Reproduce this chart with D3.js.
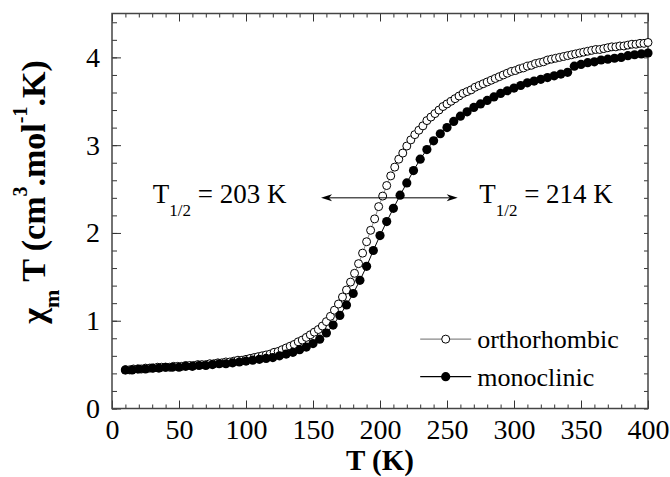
<!DOCTYPE html>
<html>
<head>
<meta charset="utf-8">
<script src="https://cdn.jsdelivr.net/npm/d3@7"></script>
<style>
  body { margin: 0; background: #fff; }
  svg text { font-family: "Liberation Serif", "DejaVu Serif", "Noto Serif", "Times New Roman", Times, serif !important; fill: #000; }
</style>
</head>
<body>
<div id="chart"></div>
<script>
// chi_m*T vs T, two polymorphs
const orthoT = [10,13,16,19,22,25,28,31,34,37,40,43,46,49,52,55,58,61,64,67,
  70,73,76,79,82,85,88,91,94,97,100,103,106,109,112,115,118,121,124,127,
  130,133,136,139,142,145,148,151,154,157,160,163,166,169,172,175,178,181,184,187,
  190,193,196,199,202,205,208,211,214,217,220,223,226,229,232,235,238,241,244,247,
  250,253,256,259,262,265,268,271,274,277,280,283,286,289,292,295,298,301,304,307,
  310,313,316,319,322,325,328,331,334,337,340,343,346,349,352,355,358,361,364,367,
  370,373,376,379,382,385,388,391,394,397,400]
const orthoChi = [0.44,0.44,0.45,0.45,0.45,0.46,0.46,0.46,0.47,0.47,
  0.47,0.47,0.48,0.48,0.48,0.49,0.49,0.49,0.50,0.50,
  0.50,0.51,0.51,0.52,0.52,0.53,0.53,0.54,0.55,0.55,
  0.56,0.57,0.58,0.59,0.60,0.61,0.62,0.64,0.65,0.67,
  0.69,0.71,0.73,0.76,0.78,0.81,0.84,0.87,0.90,0.94,
  0.99,1.05,1.12,1.19,1.27,1.35,1.44,1.54,1.65,1.77,
  1.90,2.03,2.16,2.30,2.42,2.54,2.65,2.75,2.84,2.91,
  2.99,3.06,3.12,3.17,3.22,3.28,3.32,3.36,3.40,3.44,
  3.47,3.50,3.53,3.56,3.59,3.61,3.63,3.66,3.68,3.70,
  3.72,3.74,3.76,3.78,3.80,3.82,3.84,3.85,3.87,3.88,
  3.90,3.91,3.93,3.94,3.95,3.97,3.98,3.99,4.00,4.01,
  4.02,4.03,4.04,4.05,4.06,4.07,4.08,4.09,4.09,4.10,
  4.11,4.12,4.12,4.13,4.13,4.14,4.15,4.15,4.16,4.16,
  4.17]

const monoT = [10,15,20,25,30,35,40,45,50,55,60,65,70,75,80,85,90,95,100,105,
  110,115,120,125,130,135,140,145,150,155,160,165,170,175,180,185,190,195,200,205,
  210,215,220,225,230,235,240,245,250,255,260,265,270,275,280,285,290,295,300,305,
  310,315,320,325,330,335,340,345,350,355,360,365,370,375,380,385,390,395,400]
const monoChi = [0.44,0.44,0.45,0.45,0.46,0.46,0.47,0.47,0.47,0.48,
  0.48,0.49,0.49,0.50,0.51,0.51,0.52,0.53,0.54,0.55,
  0.56,0.57,0.58,0.60,0.62,0.64,0.67,0.70,0.74,0.79,
  0.86,0.95,1.06,1.18,1.31,1.46,1.62,1.80,1.97,2.13,
  2.28,2.43,2.57,2.71,2.84,2.95,3.05,3.13,3.20,3.27,
  3.33,3.38,3.43,3.47,3.51,3.55,3.59,3.62,3.65,3.68,
  3.71,3.73,3.75,3.77,3.79,3.81,3.83,3.90,3.92,3.94,
  3.95,3.97,3.98,3.99,4.00,4.02,4.03,4.04,4.05]

const xTicks = [0, 50, 100, 150, 200, 250, 300, 350, 400]
const xMinor = [0,10,20,30,40,50,60,70,80,90,100,110,120,130,140,150,160,170,180,190,
  200,210,220,230,240,250,260,270,280,290,300,310,320,330,340,350,360,370,380,390,400]
const yTicks = [0, 1, 2, 3, 4]
const yMinor = [0, 0.2, 0.4, 0.6, 0.8, 1, 1.2, 1.4, 1.6, 1.8, 2, 2.2, 2.4, 2.6, 2.8, 3, 3.2, 3.4, 3.6, 3.8, 4, 4.2, 4.4]

const seriesNames = ['orthorhombic', 'monoclinic']
const halfTemps = [203, 214]

let W = 670, H = 477
let margin = { top: 13.5, left: 112, right: 22, bottom: 68.5 }
let width = W - margin.left - margin.right
let height = H - margin.top - margin.bottom
let serif = '"Liberation Serif", "DejaVu Serif", "Noto Serif", serif'

let svg = d3.select('#chart')
  .append('svg')
  .attr('width', W)
  .attr('height', H)
  .attr('font-family', serif)
  .append('g')
  .attr('transform', `translate(${margin.left},${margin.top})`)

let x = d3.scaleLinear().domain([0, 400]).range([0, width])
let y = d3.scaleLinear().domain([0, 4.5]).range([height, 0])

// ticks (inward, mirrored on the other sides)
function addAxis(axis, cls, tr) {
  let g = svg.append('g').attr('class', cls)
  if (tr) g.attr('transform', tr)
  g.call(axis)
  g.attr('font-family', serif).attr('font-size', 28)
  g.select('.domain').remove()
  g.selectAll('.tick line').attr('stroke', '#333').attr('stroke-width', 1)
  return g
}

addAxis(d3.axisBottom(x).tickValues(xMinor).tickSize(-4).tickFormat(''), 'x-minor', `translate(0,${height})`)
addAxis(d3.axisBottom(x).tickValues(xTicks).tickSize(-8).tickPadding(11).tickFormat(d3.format('d')), 'x-axis', `translate(0,${height})`)
addAxis(d3.axisTop(x).tickValues(xMinor).tickSize(-4).tickFormat(''), 'x-top')
addAxis(d3.axisTop(x).tickValues(xTicks).tickSize(-8).tickFormat(''), 'x-top2')

addAxis(d3.axisLeft(y).tickValues(yMinor).tickSize(-5).tickFormat(''), 'y-minor')
addAxis(d3.axisLeft(y).tickValues(yTicks).tickSize(-9).tickPadding(12).tickFormat(d3.format('d')), 'y-axis')
addAxis(d3.axisRight(y).tickValues(yMinor).tickSize(-4).tickFormat(''), 'y-right', `translate(${width},0)`)

svg.append('rect')
  .attr('width', width)
  .attr('height', height)
  .attr('fill', 'none')
  .attr('stroke', '#444')
  .attr('stroke-width', 1.5)

let ortho = orthoT.map((t, i) => ({ t: t, v: orthoChi[i] }))
let mono = monoT.map((t, i) => ({ t: t, v: monoChi[i] }))

let line = d3.line().x(d => x(d.t)).y(d => y(d.v))

svg.append('path')
  .datum(ortho)
  .attr('d', line)
  .attr('fill', 'none')
  .attr('stroke', '#888')

svg.append('g')
  .selectAll('circle')
  .data(ortho)
  .enter()
  .append('circle')
  .attr('cx', d => x(d.t))
  .attr('cy', d => y(d.v))
  .attr('r', 4)
  .attr('fill', '#fff')
  .attr('stroke', '#000')
  .attr('stroke-width', 1)

svg.append('path')
  .datum(mono)
  .attr('d', line)
  .attr('fill', 'none')
  .attr('stroke', '#000')

svg.append('g')
  .selectAll('circle')
  .data(mono)
  .enter()
  .append('circle')
  .attr('cx', d => x(d.t))
  .attr('cy', d => y(d.v))
  .attr('r', 4.6)
  .attr('fill', '#000')

// double arrow between the two T1/2 labels
let arrowY = y(2.4)
let ax1 = x(156), ax2 = x(258)
svg.append('line')
  .attr('x1', ax1 + 8).attr('x2', ax2 - 8)
  .attr('y1', arrowY).attr('y2', arrowY)
  .attr('stroke', '#000')
  .attr('stroke-width', 1)
svg.append('path')
  .attr('d', `M${ax1},${arrowY} l11,-3.5 l-3,3.5 l3,3.5 z`)
  .attr('fill', '#000')
svg.append('path')
  .attr('d', `M${ax2},${arrowY} l-11,-3.5 l3,3.5 l-3,3.5 z`)
  .attr('fill', '#000')

function halfLabel(px, temp) {
  let t = svg.append('text')
    .attr('x', px)
    .attr('y', arrowY + 5.5)
    .attr('font-size', 27)
  t.append('tspan').text('T')
  t.append('tspan').attr('dy', 13).attr('font-size', 17).text('1/2')
  t.append('tspan').attr('dy', -13).text(` = ${temp} K`)
}
halfLabel(x(30.5), halfTemps[0])
halfLabel(x(274), halfTemps[1])

// legend
let legend = svg.append('g').attr('transform', `translate(${x(230)},${y(0.79)})`)
seriesNames.forEach((name, i) => {
  let g = legend.append('g').attr('transform', `translate(0,${i * 37.5})`)
  g.append('line')
    .attr('x1', 0).attr('x2', 51)
    .attr('stroke', i === 0 ? '#888' : '#000')
    .attr('stroke-width', 1.2)
  g.append('circle')
    .attr('cx', 25.5)
    .attr('r', i === 0 ? 4 : 4.6)
    .attr('fill', i === 0 ? '#fff' : '#000')
    .attr('stroke', '#000')
    .attr('stroke-width', i === 0 ? 1 : 0)
  g.append('text')
    .attr('x', 57)
    .attr('y', 9)
    .attr('font-size', 26)
    .text(name)
})

// axis titles
svg.append('text')
  .attr('x', width / 2)
  .attr('y', height + 61)
  .attr('text-anchor', 'middle')
  .attr('font-size', 29)
  .attr('font-weight', 'bold')
  .text('T (K)')

let yt = svg.append('text')
  .attr('transform', `translate(${45 - margin.left},${192 - margin.top}) rotate(-90)`)
  .attr('text-anchor', 'middle')
  .attr('font-size', 34)
  .attr('font-weight', 'bold')
yt.append('tspan').text('\u03c7')
yt.append('tspan').attr('dy', 14).attr('font-size', 22).text('m')
yt.append('tspan').attr('dy', -14).text(' T (cm')
yt.append('tspan').attr('dy', -18).attr('font-size', 20).text('3')
yt.append('tspan').attr('dy', 18).text('.mol')
yt.append('tspan').attr('dy', -18).attr('font-size', 20).text('-1')
yt.append('tspan').attr('dy', 18).text('.K)')
</script>
</body>
</html>
